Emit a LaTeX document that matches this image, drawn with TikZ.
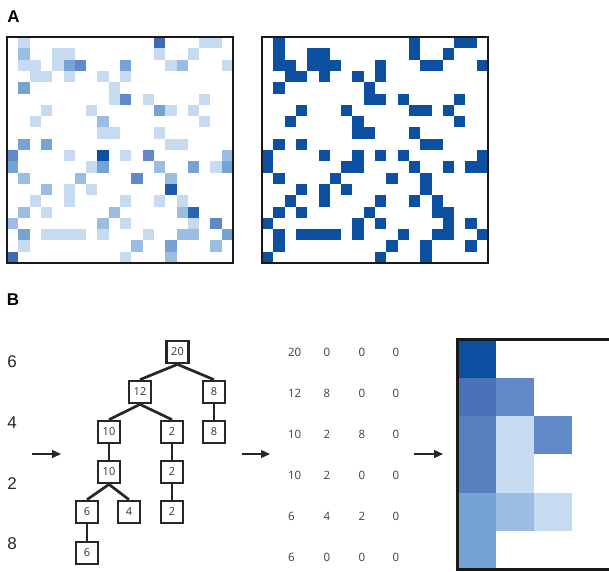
\documentclass[tikz,border=0pt]{standalone}
\usepackage{fontspec}
\setmainfont{Liberation Sans}
\newfontfamily\numfont{Open Sans}
\usetikzlibrary{arrows.meta}

\definecolor{bl1}{HTML}{C6DBEF}
\definecolor{bl2}{HTML}{9BBDE1}
\definecolor{bl3}{HTML}{74A3D4}
\definecolor{bl4}{HTML}{6189C7}
\definecolor{bl5}{HTML}{5780BE}
\definecolor{bl6}{HTML}{4B72B8}
\definecolor{bl7}{HTML}{4169B6}
\definecolor{bl8}{HTML}{2B64B0}
\definecolor{bl9}{HTML}{1A5AAA}
\definecolor{bl10}{HTML}{0D4FA0}

% row/column/shade of the filled cells in panel A
\def\cellsA{0/1/1, 0/13/7, 0/17/1, 0/18/1,
  1/1/2, 1/4/1, 1/5/1, 1/13/1, 1/16/1,
  2/1/1, 2/2/1, 2/4/1, 2/5/3, 2/6/4, 2/10/3, 2/14/1, 2/15/2, 2/19/1,
  3/2/1, 3/3/1, 3/5/1, 3/8/1, 3/10/1,
  4/1/3, 4/9/1,
  5/9/1, 5/10/4, 5/12/1, 5/17/1,
  6/3/1, 6/7/1, 6/13/3, 6/14/1, 6/16/1,
  7/2/1, 7/8/2, 7/17/1,
  8/8/1, 8/9/1, 8/13/1,
  9/1/3, 9/3/3, 9/14/1, 9/15/1,
  10/0/4, 10/5/1, 10/8/10, 10/10/1, 10/12/4, 10/19/2,
  11/0/3, 11/7/1, 11/8/3, 11/13/2, 11/16/3, 11/18/1, 11/19/3,
  12/1/2, 12/6/2, 12/11/4, 12/14/2,
  13/3/2, 13/5/1, 13/7/1, 13/14/9,
  14/2/1, 14/5/1, 14/10/1, 14/13/1, 14/15/1,
  15/1/2, 15/3/1, 15/9/2, 15/15/2, 15/16/8,
  16/0/2, 16/8/2, 16/10/1, 16/16/1, 16/18/4,
  17/1/3, 17/3/1, 17/4/1, 17/5/1, 17/6/1, 17/8/1, 17/12/1, 17/15/2, 17/16/2, 17/19/3,
  18/1/1, 18/11/2, 18/14/3, 18/18/2,
  19/0/7, 19/10/1, 19/14/2}

\tikzset{
  treebox/.style={draw=black!85, line width=2.7pt, minimum size=22pt, inner sep=0pt,
    font=\numfont\fontsize{11}{13}\selectfont, text=black!80},
  treeline/.style={line width=2.7pt, draw=black!85},
  matnum/.style={font=\numfont\fontsize{11.5}{13}\selectfont, text=black!75},
  sidenum/.style={font=\fontsize{17}{20}\selectfont, text=black!85},
  panel/.style={font=\bfseries\fontsize{17}{20}\selectfont},
  gridframe/.style={draw=black!90, line width=2.6pt},
  flow/.style={line width=1.4pt, draw=black!85, -{Triangle[length=9pt,width=8pt]}},
}

\begin{document}
\begin{tikzpicture}[x=1pt,y=-1pt]
    \useasboundingbox (0,0) rectangle (609,571);

    % panel A
    \node[panel] (labA) at (13.5,17) {A};
    \foreach \rr/\cc/\lv in \cellsA {
        \fill[bl\lv] (7+\cc*11.3, 37+\rr*11.3) rectangle ++(11.3,11.3);
        \fill[bl10] (262+\cc*11.3, 37+\rr*11.3) rectangle ++(11.3,11.3);
    }
    \draw[gridframe] (7,37) rectangle (233,263);
    \draw[gridframe] (262,37) rectangle (488,263);

    % panel B
    \node[panel] (labB) at (13,300) {B};
    \node[sidenum] (s1) at (12,362) {6};
    \node[sidenum] (s2) at (12,423) {4};
    \node[sidenum] (s3) at (12,484) {2};
    \node[sidenum] (s4) at (12,544) {8};

    % tree
    \node[treebox] (t20) at (177.5,352) {20};
    \node[treebox] (t12) at (140,392) {12};
    \node[treebox] (t8a) at (214,392) {8};
    \node[treebox] (t10a) at (109,432) {10};
    \node[treebox] (t2a) at (172,432) {2};
    \node[treebox] (t8b) at (214,432) {8};
    \node[treebox] (t10b) at (109,472) {10};
    \node[treebox] (t2b) at (172,472) {2};
    \node[treebox] (t6a) at (87,512) {6};
    \node[treebox] (t4) at (129,512) {4};
    \node[treebox] (t2c) at (172,512) {2};
    \node[treebox] (t6b) at (87,553) {6};

    \draw[treeline] (t20.south) -- (t12.north);
    \draw[treeline] (t20.south) -- (t8a.north);
    \draw[treeline] (t12.south) -- (t10a.north);
    \draw[treeline] (t12.south) -- (t2a.north);
    \draw[treeline] (t8a) -- (t8b);
    \draw[treeline] (t10a) -- (t10b);
    \draw[treeline] (t2a) -- (t2b);
    \draw[treeline] (t2b) -- (t2c);
    \draw[treeline] (t10b.south) -- (t6a.north);
    \draw[treeline] (t10b.south) -- (t4.north);
    \draw[treeline] (t6a) -- (t6b);

    % matrix of counts
    \foreach \va/\vb/\vc/\vd [count=\i] in {20/0/0/0, 12/8/0/0, 10/2/8/0, 10/2/0/0, 6/4/2/0, 6/0/0/0} {
        \node[matnum, anchor=west] (m\i a) at (284.5, 311+41*\i) {\va};
        \node[matnum] (m\i b) at (327, 311+41*\i) {\vb};
        \node[matnum] (m\i c) at (362, 311+41*\i) {\vc};
        \node[matnum] (m\i d) at (396, 311+41*\i) {\vd};
    }

    % heat map
    \foreach \rr/\cc/\lv in {0/0/10, 1/0/6, 1/1/4, 2/0/5, 2/1/1, 2/2/4, 3/0/5, 3/1/1, 4/0/3, 4/1/2, 4/2/1, 5/0/3} {
        \fill[bl\lv] (457.5+\cc*38.3, 339.5+\rr*38.3) rectangle ++(38.3,38.3);
    }
    \draw[gridframe] (457.5,339.5) rectangle (610.7,569.3);

    % arrows
    \coordinate (a1s) at (32,454);
    \coordinate (a1e) at (61,454);
    \coordinate (a2s) at (242,454);
    \coordinate (a2e) at (270,454);
    \coordinate (a3s) at (414,454);
    \coordinate (a3e) at (443,454);
    \draw[flow] (a1s) -- (a1e);
    \draw[flow] (a2s) -- (a2e);
    \draw[flow] (a3s) -- (a3e);
\end{tikzpicture}
\end{document}
